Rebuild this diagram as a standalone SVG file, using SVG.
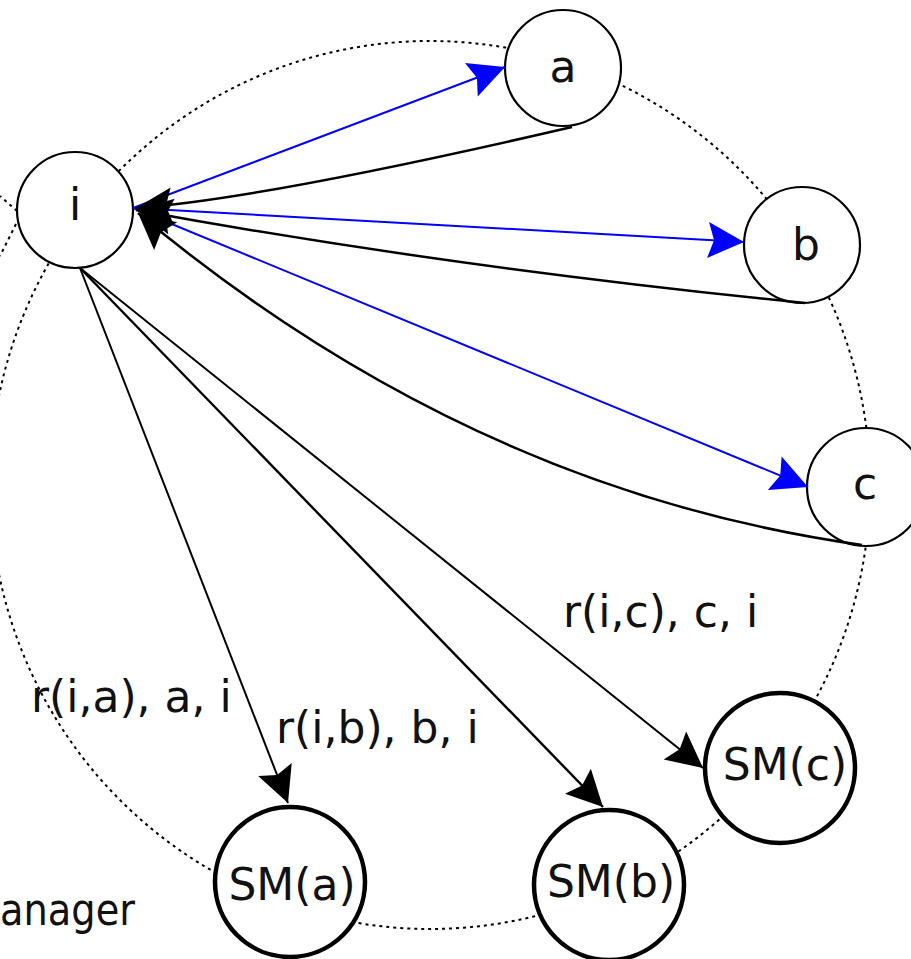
<svg xmlns="http://www.w3.org/2000/svg" width="911" height="959" viewBox="0 0 911 959">
  <style>
    .bg { fill: #ffffff; }
    .ring { fill: none; stroke: #000; stroke-width: 2; stroke-dasharray: 3 4; }
    .node { fill: #ffffff; stroke: #000; stroke-width: 2.2; }
    .sm { fill: #ffffff; stroke: #000; stroke-width: 4.5; }
    .lbl { font-family: "DejaVu Sans", "Liberation Sans", sans-serif; font-size: 44px; fill: #111; }
    .mid { text-anchor: middle; }
    .req { fill: none; stroke: #0000ff; stroke-width: 2; marker-end: url(#ah-blue); }
    .ret { fill: none; stroke: #000; stroke-width: 2.5; marker-end: url(#ah-black); }
    .sync { fill: none; stroke: #000; stroke-width: 2; marker-end: url(#ah-black); }
  </style>
  <defs>
    <marker id="ah-blue" markerUnits="userSpaceOnUse" markerWidth="44" markerHeight="44" viewBox="-40 -22 44 44" refX="0" refY="0" orient="auto" overflow="visible">
      <path d="M0,0 L-36,-18 L-30,0 L-36,18 Z" fill="#0000ff"/>
    </marker>
    <marker id="ah-black" markerUnits="userSpaceOnUse" markerWidth="44" markerHeight="44" viewBox="-40 -22 44 44" refX="0" refY="0" orient="auto" overflow="visible">
      <path d="M0,0 L-36,-18 L-30,0 L-36,18 Z" fill="#000"/>
    </marker>
  </defs>

  <rect class="bg" x="0" y="0" width="911" height="959"/>

  <!-- dotted ring through the members -->
  <ellipse class="ring" cx="430" cy="485" rx="440" ry="444"/>
  <!-- dotted stubs leaving i to the left -->
  <path class="ring" d="M17,211 L0,196"/>
  <path class="ring" d="M16,224 L0,256"/>

  <text class="lbl" x="0" y="925" textLength="135" lengthAdjust="spacingAndGlyphs">anager</text>

  <!-- nodes -->
  <g id="node-i"><circle class="node" cx="75" cy="210" r="58"/><text class="lbl mid" x="75" y="220">i</text></g>
  <g id="node-a"><circle class="node" cx="563" cy="68" r="58"/><text class="lbl mid" x="563" y="82">a</text></g>
  <g id="node-b"><circle class="node" cx="802" cy="245" r="58"/><text class="lbl mid" x="806" y="260">b</text></g>
  <g id="node-c"><circle class="node" cx="866" cy="487" r="59"/><text class="lbl mid" x="865" y="499">c</text></g>
  <g id="node-sma"><circle class="sm" cx="290" cy="882" r="75"/><text class="lbl mid" x="292" y="900">SM(a)</text></g>
  <g id="node-smb"><circle class="sm" cx="609" cy="885" r="75"/><text class="lbl mid" x="611" y="897">SM(b)</text></g>
  <g id="node-smc"><circle class="sm" cx="780" cy="768" r="75"/><text class="lbl mid" x="785" y="780">SM(c)</text></g>

  <!-- connectors -->
  <g id="connectors">
    <!-- requests from i -->
    <path class="req" d="M133,208 L505,67"/>
    <path class="req" d="M133,208 L744,242"/>
    <path class="req" d="M133,208 L808,487"/>
    <!-- notices to the state managers -->
    <path class="sync" d="M80,268 L288,803"/>
    <path class="sync" d="M80,268 L603,807" style="stroke-width:2.4"/>
    <path class="sync" d="M80,268 L703,768"/>
    <!-- replies back to i -->
    <path class="ret" d="M572,127 Q262,199 136,208"/>
    <path class="ret" d="M805,303 Q447,267 136,210"/>
    <path class="ret" d="M862,545 Q470,490 138,213"/>
  </g>

  <!-- connector labels -->
  <text class="lbl" x="31" y="712">r(i,a), a, i</text>
  <text class="lbl" x="276" y="743">r(i,b), b, i</text>
  <text class="lbl" x="563" y="627">r(i,c), c, i</text>
</svg>
